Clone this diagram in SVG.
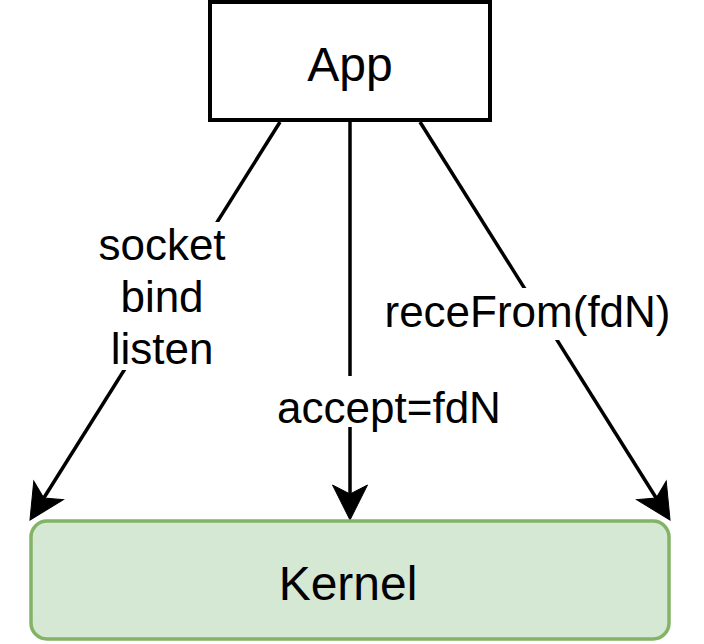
<svg xmlns="http://www.w3.org/2000/svg" width="704" height="644" viewBox="0 0 704 644">
<style>
.lbl{font-family:"Liberation Sans",Arial,sans-serif;font-size:44px;fill:#000;text-anchor:middle}
.big{font-family:"Liberation Sans",Arial,sans-serif;font-size:48px;fill:#000;text-anchor:middle}
.edge{stroke:#000;stroke-width:3.5;fill:none}
.bg{fill:#fff}
</style>
<defs>
<marker id="arr" markerUnits="userSpaceOnUse" viewBox="-12 -20 42 40" markerWidth="42" markerHeight="40" refX="0" refY="0" orient="auto" overflow="visible">
<path d="M26,0 L-9,-17.5 L0,0 L-9,17.5 Z" fill="#000" stroke="#000" stroke-width="1"/>
</marker>
</defs>
<rect width="704" height="644" fill="#fff"/>
<g id="connectors">
<g id="edge-left">
<line class="edge" x1="280" y1="122" x2="43.8" y2="498" marker-end="url(#arr)"/>
<rect class="bg" x="97" y="222" width="130" height="148"/>
<text class="lbl" x="162" y="260">socket</text>
<text class="lbl" x="162" y="312">bind</text>
<text class="lbl" x="162" y="364">listen</text>
</g>
<g id="edge-mid">
<line class="edge" x1="350" y1="122" x2="350" y2="494" marker-end="url(#arr)"/>
<rect class="bg" x="277" y="376" width="225" height="51"/>
<text class="lbl" x="389" y="423">accept=fdN</text>
</g>
<g id="edge-right">
<line class="edge" x1="420" y1="122" x2="656.2" y2="498" marker-end="url(#arr)"/>
<rect class="bg" x="385" y="288" width="285" height="52"/>
<text class="lbl" x="527.5" y="327">receFrom(fdN)</text>
</g>
</g>
<g id="app">
<rect x="210" y="2" width="280" height="118" fill="#fff" stroke="#000" stroke-width="4"/>
<text class="big" x="350" y="81">App</text>
</g>
<g id="kernel">
<rect x="31" y="521" width="638" height="118" rx="16" ry="16" fill="#d5e8d4" stroke="#82b366" stroke-width="3.5"/>
<text class="big" x="348" y="600">Kernel</text>
</g>
</svg>
